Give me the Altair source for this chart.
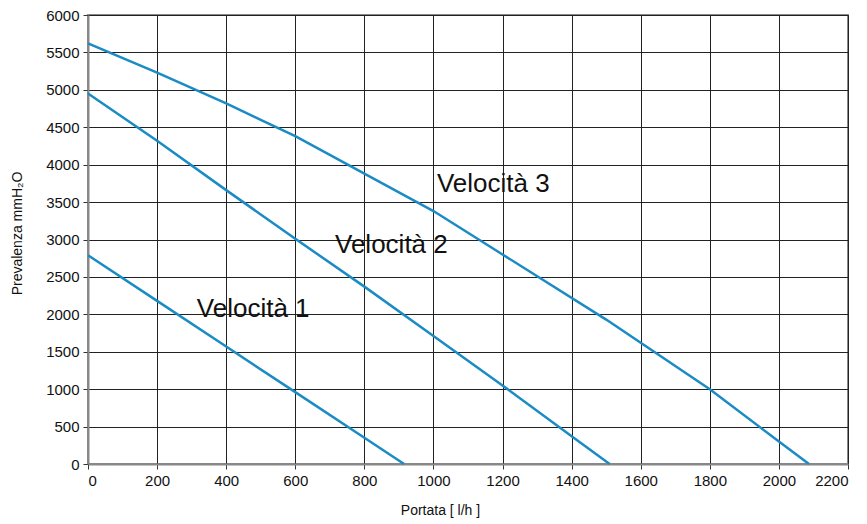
import altair as alt
import pandas as pd

v1_x = [0, 200, 400, 600, 800, 915]
v1_y = [2790, 2180, 1570, 960, 350, 0]
v2_x = [0, 200, 400, 600, 800, 1000, 1200, 1400, 1510]
v2_y = [4950, 4320, 3660, 3010, 2370, 1710, 1050, 370, 0]
v3_x = [0, 200, 400, 500, 600, 800, 1000, 1200, 1500, 1600, 1800, 2000, 2087]
v3_y = [5620, 5230, 4820, 4600, 4380, 3880, 3380, 2800, 1930, 1620, 1000, 300, 0]

label_text = ["Velocità 1", "Velocità 2", "Velocità 3"]
label_x = [315, 715, 1010]
label_y = [2070, 2930, 3745]

x_ticks = list(range(0, 2201, 200))
y_ticks = list(range(0, 6001, 500))

rows = []
for name, xs_, ys_ in [("Velocità 1", v1_x, v1_y), ("Velocità 2", v2_x, v2_y), ("Velocità 3", v3_x, v3_y)]:
    for i, (a, b) in enumerate(zip(xs_, ys_)):
        rows.append({"serie": name, "q": a, "h": b, "o": i})
df = pd.DataFrame(rows)
lab = pd.DataFrame({"t": label_text, "q": label_x, "h": label_y})

FONT = "Liberation Sans"

xs = alt.Scale(domain=[0, 2200], nice=False)
ys = alt.Scale(domain=[0, 6000], nice=False)
xax = alt.Axis(values=x_ticks, format="d", labelOverlap=False,
               titleX=352, titleY=46, titleAlign="center", titleBaseline="middle", titleFontSize=14)
yax = alt.Axis(values=y_ticks, format="d", labelOverlap=False,
               titleX=-71, titleY=218, titleAlign="center", titleBaseline="middle", titleAngle=270,
               titleFontSize=14)

lines = alt.Chart(df).mark_line(color="#1a8bc4", strokeWidth=2.5).encode(
    x=alt.X("q:Q", scale=xs, title="Portata [ l/h ]", axis=xax),
    y=alt.Y("h:Q", scale=ys, title="Prevalenza mmH₂O", axis=yax),
    detail="serie:N",
    order="o:Q",
)

texts = alt.Chart(lab).mark_text(align="left", baseline="middle", fontSize=26,
                                 font=FONT, color="#111").encode(
    x=alt.X("q:Q", scale=xs, title="Portata [ l/h ]", axis=xax),
    y=alt.Y("h:Q", scale=ys, title="Prevalenza mmH₂O", axis=yax),
    text="t:N")

chart = alt.layer(lines, texts).properties(
    width=760, height=449,
    autosize=alt.AutoSizeParams(type="none"),
    padding={"left": 80, "top": 7, "right": 11, "bottom": 62},
).configure_view(stroke="#888", strokeWidth=2).configure_axis(
    grid=True, gridColor="#222", gridWidth=1, gridOpacity=1,
    domainColor="#888", domainWidth=2,
    tickColor="#333", tickSize=5, tickWidth=1,
    labelFont=FONT, labelFontSize=15, labelColor="#111",
    titleFont=FONT, titleFontWeight="normal", titleColor="#111",
).configure_axisY(labelPadding=4).configure_axisX(labelPadding=4)

chart.save("out.html", embed_options={"renderer": "svg", "actions": False})
